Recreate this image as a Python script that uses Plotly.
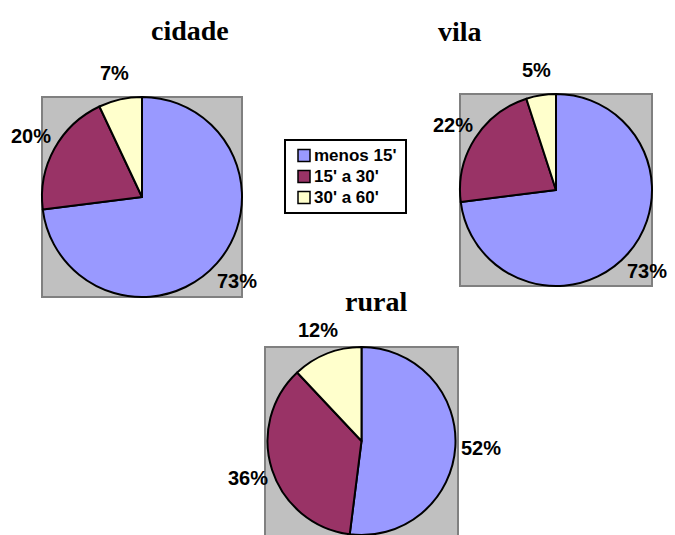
import math
import plotly.graph_objects as go

# Tempo de deslocação por zona
categorias = ["menos 15'", "15' a 30'", "30' a 60'"]
zonas = ["cidade", "vila", "rural"]
cidade = [73, 20, 7]
vila = [73, 22, 5]
rural = [52, 36, 12]
cores = ["#9999FF", "#993366", "#FFFFCC"]

W, H = 675, 535

# square plot area of each pie: left, top, side (pixels)
caixas = {"cidade": (42, 97, 200), "vila": (460, 94, 192), "rural": (265, 347, 193)}
# title centre for each pie (pixels)
titulos_pos = {"cidade": (190, 30), "vila": (460, 31), "rural": (376, 301)}

valores = {"cidade": cidade, "vila": vila, "rural": rural}

fig = go.Figure()
shapes = []
annotations = []

label_font = dict(family="Arial, Liberation Sans, sans-serif", size=20, color="black", weight="bold")
title_font = dict(family="Times New Roman, Liberation Serif, serif", size=28, color="black", weight="bold")
legend_font = dict(family="Arial, Liberation Sans, sans-serif", size=17, color="black", weight="bold")


def px_x(x):
    return x / W


def px_y(y):
    return 1 - y / H


for i, zona in enumerate(zonas):
    left, top, side = caixas[zona]
    x0, x1 = left / W, (left + side) / W
    y1 = (H - top) / H
    y0 = max(0.0, (H - top - side) / H)
    vals = valores[zona]

    fig.add_trace(go.Pie(
        labels=categorias,
        values=vals,
        name=zona,
        sort=False,
        direction="clockwise",
        rotation=0,
        textinfo="none",
        marker=dict(colors=cores, line=dict(color="black", width=2)),
        domain=dict(x=[x0, x1], y=[y0, y1]),
        showlegend=False,
    ))

    # grey plot area behind the pie
    shapes.append(dict(
        type="rect", xref="paper", yref="paper", layer="below",
        x0=x0, x1=x1, y0=(H - top - side) / H, y1=y1,
        fillcolor="#C0C0C0", line=dict(color="#808080", width=2),
    ))

    # percentage labels outside each slice
    dom_h = (y1 - y0) * H
    r = min(side, dom_h) / 2
    cx = left + side / 2
    cy = H - (y0 + y1) / 2 * H
    total = sum(vals)
    acc = 0
    for v in vals:
        mid = (acc + v / 2) / total
        acc += v
        th = 2 * math.pi * mid
        lx = cx + 1.27 * r * math.sin(th)
        ly = cy - 1.27 * r * math.cos(th)
        annotations.append(dict(
            x=px_x(lx), y=px_y(ly), xref="paper", yref="paper",
            text=f"{v}%", showarrow=False, xanchor="center", yanchor="middle",
            font=label_font,
        ))

    tx, ty = titulos_pos[zona]
    annotations.append(dict(
        x=px_x(tx), y=px_y(ty), xref="paper", yref="paper",
        text=zona, showarrow=False, xanchor="center", yanchor="middle",
        font=title_font,
    ))

# shared legend: framed box with a swatch and label per category
leg_left, leg_top, leg_right, leg_bottom = 285, 140, 406, 213
row0, row_step, sw = 155.5, 21, 12
shapes.append(dict(
    type="rect", xref="paper", yref="paper",
    x0=px_x(leg_left), x1=px_x(leg_right), y0=px_y(leg_bottom), y1=px_y(leg_top),
    fillcolor="white", line=dict(color="black", width=2),
))
for k, (cat, cor) in enumerate(zip(categorias, cores)):
    yc = row0 + k * row_step
    shapes.append(dict(
        type="rect", xref="paper", yref="paper",
        x0=px_x(298), x1=px_x(298 + sw), y0=px_y(yc + sw / 2), y1=px_y(yc - sw / 2),
        fillcolor=cor, line=dict(color="black", width=1.5),
    ))
    annotations.append(dict(
        x=px_x(312), y=px_y(yc), xref="paper", yref="paper",
        text=cat, showarrow=False, xanchor="left", yanchor="middle",
        font=legend_font,
    ))

fig.update_layout(
    width=W, height=H,
    margin=dict(l=0, r=0, t=0, b=0),
    paper_bgcolor="white",
    shapes=shapes,
    annotations=annotations,
    showlegend=False,
)

fig.write_html("out.html")
